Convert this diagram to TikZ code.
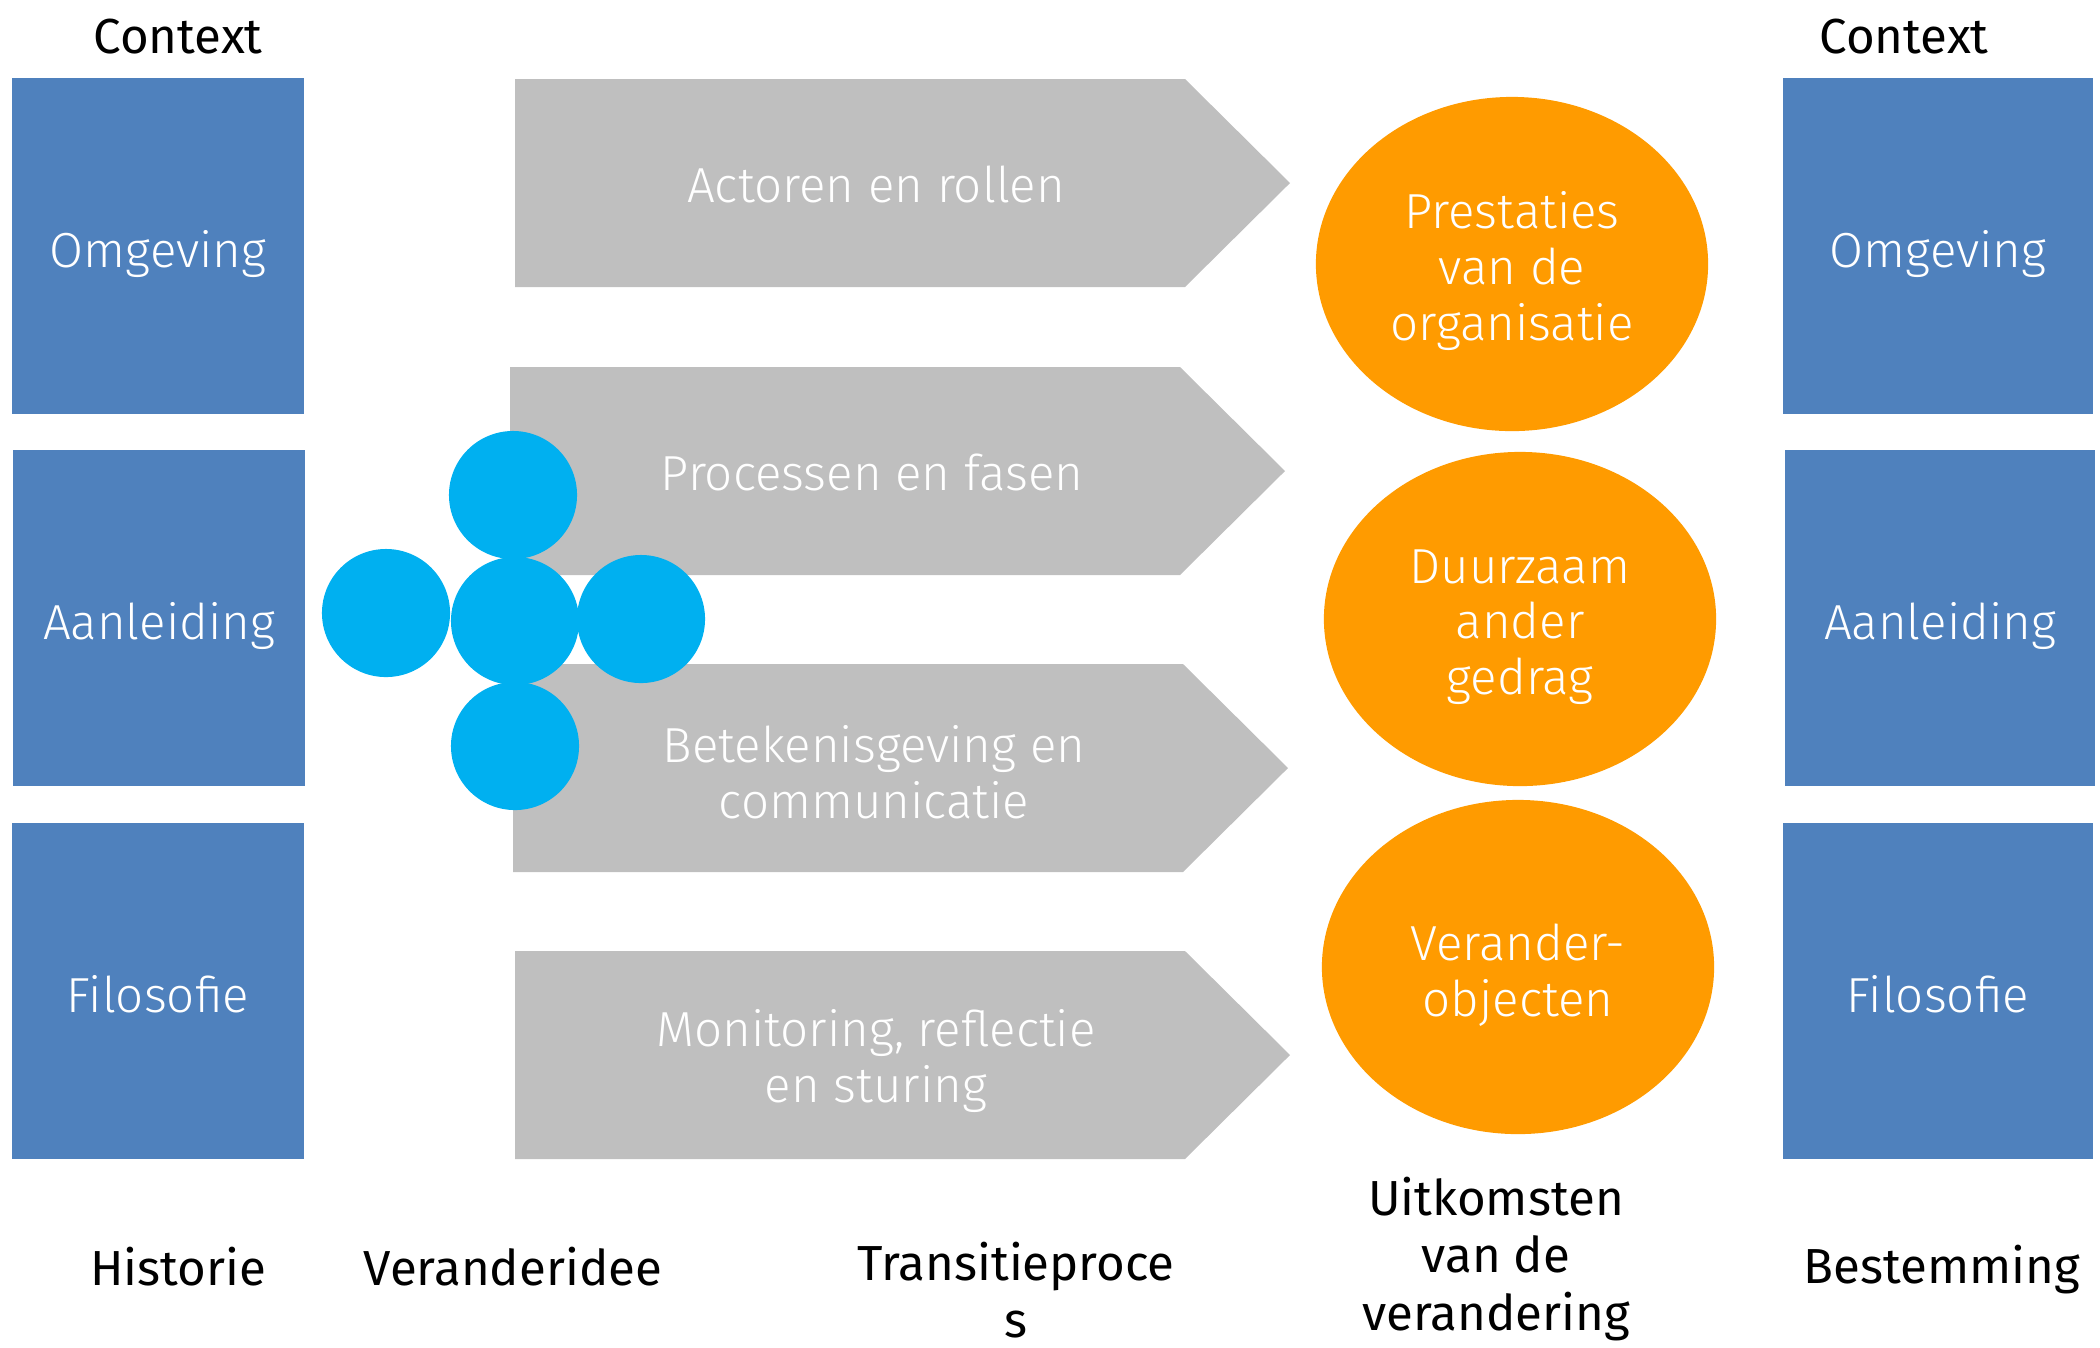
\documentclass[tikz,border=0pt]{standalone}
\usepackage{fontspec}
\setmainfont{Fira Sans}
\newfontfamily\lightfont{Fira Sans}[UprightFont=* Light]
\usetikzlibrary{shapes.geometric}
\definecolor{boxblue}{HTML}{4F81BD}
\definecolor{procgray}{HTML}{BFBFBF}
\definecolor{outorange}{HTML}{FF9B00}
\definecolor{ideacyan}{HTML}{00B0F0}
\newcommand{\labelfont}{\fontsize{14}{16.3}\selectfont}
\newcommand{\shapefont}{\lightfont\fontsize{14}{15.8}\selectfont}

\begin{document}
\begin{tikzpicture}[x=0.01cm,y=-0.01cm,
    ctxbox/.style={fill=boxblue,text=white,inner sep=0pt,minimum height=3.35cm,text height=12pt,text depth=0pt,font=\shapefont},
    proctext/.style={text=white,align=center,font=\shapefont},
    ideabol/.style={circle,fill=ideacyan,minimum size=1.28cm,inner sep=0pt},
    outcome/.style={ellipse,fill=outorange,text=white,align=center,minimum width=3.92cm,minimum height=3.34cm,inner sep=0pt,font=\shapefont},
    caption/.style={text=black,align=center,font=\labelfont}]
  \useasboundingbox (0,0) rectangle (2100,1347);

  % context columns left and right
  \node[ctxbox,minimum width=2.91cm] (omgevingL) at (158,246) {Omgeving};
  \node[ctxbox,minimum width=2.91cm] (aanleidingL) at (159,618) {Aanleiding};
  \node[ctxbox,minimum width=2.91cm] (filosofieL) at (158,991) {Filosofie};
  \node[ctxbox,minimum width=3.09cm] (omgevingR) at (1938,246) {Omgeving};
  \node[ctxbox,minimum width=3.09cm] (aanleidingR) at (1940,618) {Aanleiding};
  \node[ctxbox,minimum width=3.09cm] (filosofieR) at (1938,991) {Filosofie};

  % transition process arrows
  \foreach \nm/\xl/\yt/\tx/\ty/\txt in {
      actoren/515/79/876/184/{Actoren en rollen},
      processen/510/367/872/472/{Processen en fasen},
      betekenis/513/664/874/772/{Betekenisgeving en\\communicatie},
      monitoring/515/951/876/1061/{Monitoring, reflectie\\en sturing}} {
    \fill[procgray] (\xl,\yt) -- ++(670,0) -- ++(105,104) -- ++(-105,104) -- ++(-670,0) -- cycle;
    \node[proctext] (\nm) at (\tx,\ty) {\txt};
  }

  % change idea
  \node[ideabol] (ideaL) at (386,613) {};
  \node[ideabol] (ideaT) at (513,495) {};
  \node[ideabol] (ideaB) at (515,746) {};
  \node[ideabol] (ideaR) at (641,619) {};
  \node[ideabol] (ideaM) at (515,621) {};

  % outcomes
  \node[outcome] (prestaties) at (1512,264) {};
  \node[outcome] (duurzaam) at (1520,619) {};
  \node[outcome] (objecten) at (1518,967) {};
  \node[proctext] (prestatiesT) at (1512,271) {Prestaties\\van de\\organisatie};
  \node[proctext] (duurzaamT) at (1520,627) {Duurzaam\\ander\\gedrag};
  \node[proctext] (objectenT) at (1518,975) {Verander-\\objecten};

  % captions
  \node[caption] (contextL) at (178,37) {Context};
  \node[caption] (contextR) at (1904,37) {Context};
  \node[caption] (historie) at (178,1267) {Historie};
  \node[caption] (idee) at (513,1267) {Veranderidee};
  \node[caption] (transitie) at (1016,1290) {Transitieproce\\s};
  \node[caption] (uitkomsten) at (1496,1259) {Uitkomsten\\van de\\verandering};
  \node[caption] (bestemming) at (1942,1270) {Bestemming};
\end{tikzpicture}
\end{document}
